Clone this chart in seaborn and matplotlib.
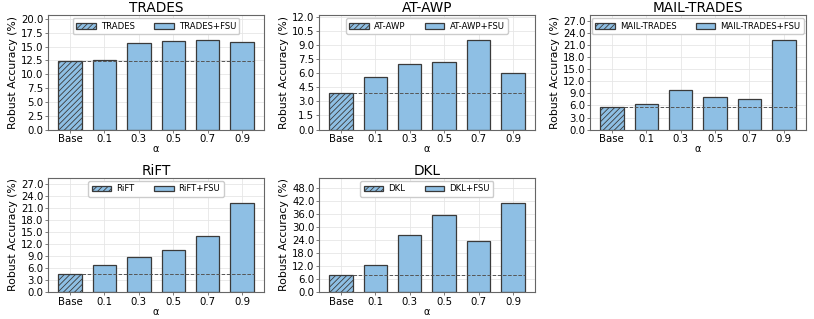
import numpy as np
import pandas as pd
import matplotlib
matplotlib.use("Agg")
import matplotlib.pyplot as plt
import seaborn as sns

# Data
alphas = ['Base', '0.1', '0.3', '0.5', '0.7', '0.9']
methods = ['TRADES', 'AT-AWP', 'MAIL-TRADES', 'RiFT', 'DKL']

trades = [12.4, 12.5, 15.7, 16.1, 16.2, 15.9]
at_awp = [3.9, 5.6, 7.0, 7.2, 9.5, 6.0]
mail_trades = [5.7, 6.4, 9.8, 8.0, 7.6, 22.3]
rift = [4.5, 6.7, 8.9, 10.6, 14.0, 22.4]
dkl = [8.0, 12.5, 26.2, 35.7, 23.6, 41.3]

tick_steps = [2.5, 1.5, 3.0, 3.0, 6.0]
tick_counts = [8, 8, 9, 9, 8]

series = [trades, at_awp, mail_trades, rift, dkl]

sns.set_style("whitegrid")
plt.rcParams['font.family'] = ['DejaVu Sans']
plt.rcParams['hatch.linewidth'] = 0.6
plt.rcParams['hatch.color'] = '#2b3a4a'
plt.rcParams['text.color'] = 'black'
plt.rcParams['axes.labelcolor'] = 'black'
plt.rcParams['xtick.color'] = 'black'
plt.rcParams['ytick.color'] = 'black'

bar_color = '#8ebfe4'
edge_color = '#3a3a3a'

fig, axes = plt.subplots(2, 3, figsize=(8.14, 3.19), dpi=100)
fig.subplots_adjust(left=0.059, right=0.990, top=0.953, bottom=0.084,
                    wspace=0.254, hspace=0.42)

for i, (name, vals) in enumerate(zip(methods, series)):
    ax = axes.flat[i]
    df = pd.DataFrame({'alpha': alphas, 'acc': vals})
    sns.barplot(data=df, x='alpha', y='acc', ax=ax, color=bar_color,
                width=0.68, edgecolor=edge_color, linewidth=0.9,
                saturation=1, zorder=2)
    patches = ax.patches
    patches[0].set_hatch('//////')
    patches[0].set_label(name)
    patches[1].set_label(name + '+FSU')
    ax.hlines(vals[0], 0.34, len(alphas) - 0.66, colors='#555555',
              linestyles='--', linewidth=0.7, zorder=3)

    step = tick_steps[i]
    ticks = np.arange(tick_counts[i] + 1) * step
    ax.set_yticks(ticks)
    ax.set_yticklabels([f'{t:.1f}' for t in ticks])
    ax.set_ylim(0, max(vals) * 1.28)
    ax.set_xlim(-0.64, len(alphas) - 0.36)

    ax.set_title(name, fontsize=9.8, pad=2)
    ax.set_xlabel('α', fontsize=7, labelpad=0)
    ax.set_ylabel('Robust Accuracy (%)', fontsize=7.8, labelpad=2)
    ax.tick_params(axis='both', labelsize=7.3, pad=1.2, length=2, width=0.6,
                   color='#666666', labelcolor='black', left=True, bottom=True)
    ax.grid(True, color='#e6e6e6', linewidth=0.6, zorder=0)
    ax.set_axisbelow(True)
    for sp in ax.spines.values():
        sp.set_color('#666666')
        sp.set_linewidth(0.8)

    ax.legend(handles=[patches[0], patches[1]], loc='upper center', ncol=2,
              fontsize=6.1, frameon=True, fancybox=True, framealpha=1,
              edgecolor='#cccccc', borderpad=0.4, handlelength=2.3,
              columnspacing=2.3, handletextpad=0.6, borderaxespad=0.4)

axes.flat[5].axis('off')

fig.savefig('out.png', dpi=100)
